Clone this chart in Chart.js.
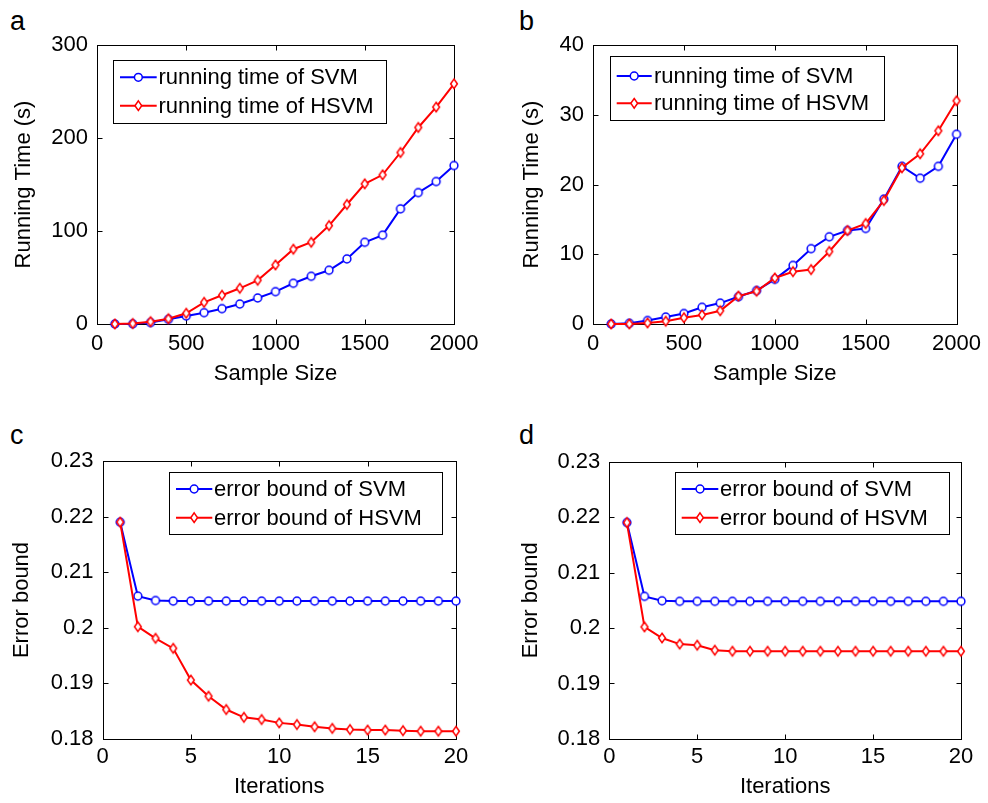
<!DOCTYPE html>
<html>
<head>
<meta charset="utf-8">
<script src="https://cdn.jsdelivr.net/npm/chart.js@4.4.1/dist/chart.umd.min.js"></script>
<style>
  body { margin: 0; background: #fff; width: 988px; height: 803px; position: relative; overflow: hidden; font-family: "Liberation Sans", Arial, sans-serif; }
  canvas { position: absolute; }
  .letter { position: absolute; font-size: 27px; line-height: 1; color: #000; }
</style>
</head>
<body>
<div class="letter" style="left:10px;top:8px">a</div>
<div class="letter" style="left:519px;top:8px">b</div>
<div class="letter" style="left:10px;top:422px">c</div>
<div class="letter" style="left:519px;top:422px">d</div>

<canvas id="chartA" width="494" height="400" style="left:0;top:0"></canvas>
<canvas id="chartB" width="494" height="400" style="left:494px;top:0"></canvas>
<canvas id="chartC" width="494" height="403" style="left:0;top:400px"></canvas>
<canvas id="chartD" width="494" height="403" style="left:494px;top:400px"></canvas>

<script>
// datos
const sampleSizes = [100, 200, 300, 400, 500, 600, 700, 800, 900, 1000, 1100, 1200, 1300, 1400, 1500, 1600, 1700, 1800, 1900, 2000];
const svmTimeA = [0, 0.2, 1.5, 5.0, 8.6, 12.2, 16.5, 21.5, 28.0, 34.8, 43.8, 51.3, 57.8, 70.0, 87.9, 95.5, 123.8, 141.3, 153.2, 170.4];
const hsvmTimeA = [0, 0.5, 2.5, 5.7, 11.5, 23.3, 30.9, 38.4, 47.0, 63.5, 80.4, 87.9, 105.8, 128.5, 150.7, 160.4, 184.4, 211.3, 233.2, 258.3];
const svmTimeB = [0, 0.1, 0.5, 1.0, 1.5, 2.4, 3.0, 3.9, 4.8, 6.4, 8.4, 10.8, 12.5, 13.4, 13.7, 17.9, 22.6, 20.9, 22.6, 27.2];
const hsvmTimeB = [0, 0.0, 0.15, 0.4, 0.9, 1.3, 1.9, 4.0, 4.7, 6.6, 7.5, 7.8, 10.4, 13.4, 14.4, 17.7, 22.4, 24.4, 27.7, 32.0];

const iterations = [1, 2, 3, 4, 5, 6, 7, 8, 9, 10, 11, 12, 13, 14, 15, 16, 17, 18, 19, 20];
const svmBoundC = [0.219, 0.2057, 0.2049, 0.2048, 0.2048, 0.2048, 0.2048, 0.2048, 0.2048, 0.2048, 0.2048, 0.2048, 0.2048, 0.2048, 0.2048, 0.2048, 0.2048, 0.2048, 0.2048, 0.2048];
const hsvmBoundC = [0.219, 0.2002, 0.1981, 0.1963, 0.1906, 0.1877, 0.1853, 0.1839, 0.1835, 0.1829, 0.1826, 0.1822, 0.1819, 0.1817, 0.1816, 0.1816, 0.1815, 0.1814, 0.1814, 0.1814];
const svmBoundD = [0.219, 0.2057, 0.2049, 0.2048, 0.2048, 0.2048, 0.2048, 0.2048, 0.2048, 0.2048, 0.2048, 0.2048, 0.2048, 0.2048, 0.2048, 0.2048, 0.2048, 0.2048, 0.2048, 0.2048];
const hsvmBoundD = [0.219, 0.2002, 0.1982, 0.1971, 0.1969, 0.1960, 0.1958, 0.1958, 0.1958, 0.1958, 0.1958, 0.1958, 0.1958, 0.1958, 0.1958, 0.1958, 0.1958, 0.1958, 0.1958, 0.1958];

// etiquetas de los ejes
const sizeTicks = [0, 500, 1000, 1500, 2000];
const iterTicks = [0, 5, 10, 15, 20];
const timeTicksA = [0, 100, 200, 300];
const timeTicksB = [0, 10, 20, 30, 40];
const boundTicks = [0.18, 0.19, 0.2, 0.21, 0.22, 0.23];

const timeLabels = ['running time of SVM', 'running time of HSVM'];
const boundLabels = ['error bound of SVM', 'error bound of HSVM'];

const BLUE = '#0000ff';
const RED = '#ff0000';
const FONT = '"Liberation Sans", Arial, sans-serif';

// marcador estilo MATLAB (círculo o diamante hueco)
function drawMarker(ctx, shape, x, y, color) {
    ctx.save();
    ctx.lineWidth = 1.5;
    ctx.strokeStyle = color;
    ctx.fillStyle = '#fff';
    ctx.beginPath();
    if (shape === 'circle') {
        ctx.arc(x, y, 3.9, 0, Math.PI * 2);
    } else {
        ctx.moveTo(x, y - 4.8);
        ctx.lineTo(x + 3.4, y);
        ctx.lineTo(x, y + 4.8);
        ctx.lineTo(x - 3.4, y);
        ctx.closePath();
    }
    ctx.fill();
    ctx.stroke();
    ctx.restore();
}

function markerImage(shape, color) {
    const c = document.createElement('canvas');
    c.width = 12;
    c.height = 14;
    drawMarker(c.getContext('2d'), shape, 6, 7, color);
    return c;
}

const circleBlue = markerImage('circle', BLUE);
const diamondRed = markerImage('diamond', RED);

// caja de ejes con marcas hacia dentro
const boxPlugin = {
    id: 'matlabBox',
    beforeDatasetsDraw(chart) {
        const { ctx, chartArea } = chart;
        const l = Math.round(chartArea.left) + 0.5;
        const t = Math.round(chartArea.top) + 0.5;
        const r = Math.round(chartArea.right) + 0.5;
        const b = Math.round(chartArea.bottom) + 0.5;
        ctx.save();
        ctx.strokeStyle = '#000';
        ctx.lineWidth = 1;
        ctx.strokeRect(l, t, r - l, b - t);
        ctx.beginPath();
        chart.scales.x.ticks.forEach(tk => {
            const px = Math.round(chart.scales.x.getPixelForValue(tk.value)) + 0.5;
            ctx.moveTo(px, b); ctx.lineTo(px, b - 5);
            ctx.moveTo(px, t); ctx.lineTo(px, t + 5);
        });
        chart.scales.y.ticks.forEach(tk => {
            const py = Math.round(chart.scales.y.getPixelForValue(tk.value)) + 0.5;
            ctx.moveTo(l, py); ctx.lineTo(l + 5, py);
            ctx.moveTo(r, py); ctx.lineTo(r - 5, py);
        });
        ctx.stroke();
        ctx.restore();
    }
};

// leyenda dentro del área, con línea y marcador
const legendPlugin = {
    id: 'matlabLegend',
    afterDraw(chart, args, opts) {
        if (!opts.box) return;
        const { ctx } = chart;
        const [l, t, r, b] = opts.box;
        ctx.save();
        ctx.fillStyle = '#fff';
        ctx.fillRect(l, t, r - l, b - t);
        ctx.strokeStyle = '#000';
        ctx.lineWidth = 1;
        ctx.strokeRect(Math.round(l) + 0.5, Math.round(t) + 0.5, Math.round(r - l), Math.round(b - t));
        ctx.font = '22px ' + FONT;
        ctx.textBaseline = 'middle';
        ctx.textAlign = 'left';
        const shapes = ['circle', 'diamond'];
        const colors = [BLUE, RED];
        chart.data.datasets.forEach((ds, i) => {
            const y = opts.rows[i];
            ctx.strokeStyle = colors[i];
            ctx.lineWidth = 2;
            ctx.beginPath();
            ctx.moveTo(opts.line[0], y);
            ctx.lineTo(opts.line[1], y);
            ctx.stroke();
            drawMarker(ctx, shapes[i], (opts.line[0] + opts.line[1]) / 2, y, colors[i]);
            ctx.fillStyle = '#000';
            ctx.fillText(ds.label, opts.textX, y + 1);
        });
        ctx.restore();
    }
};

function fmt(v) {
    return String(Math.round(v * 10000) / 10000);
}

function makePanel(canvasId, cfg) {
    const pts = (ys) => cfg.xs.map((x, i) => ({ x: x, y: ys[i] }));
    return new Chart(document.getElementById(canvasId), {
        type: 'line',
        data: {
            datasets: [
                {
                    label: cfg.labels[0],
                    data: pts(cfg.svm),
                    borderColor: BLUE,
                    borderWidth: 2,
                    pointStyle: circleBlue,
                    pointRadius: 4,
                    tension: 0,
                    clip: false,
                    order: 1
                },
                {
                    label: cfg.labels[1],
                    data: pts(cfg.hsvm),
                    borderColor: RED,
                    borderWidth: 2,
                    pointStyle: diamondRed,
                    pointRadius: 4,
                    tension: 0,
                    clip: false,
                    order: 0
                }
            ]
        },
        options: {
            responsive: false,
            animation: false,
            events: [],
            layout: { padding: { top: cfg.padTop, right: cfg.padRight, left: 0, bottom: 0 } },
            scales: {
                x: {
                    type: 'linear',
                    min: cfg.xTicks[0],
                    max: cfg.xTicks[cfg.xTicks.length - 1],
                    afterBuildTicks: s => { s.ticks = cfg.xTicks.map(v => ({ value: v })); },
                    afterFit: s => { s.height = cfg.xAxisH; },
                    grid: { display: false, tickLength: 0 },
                    border: { display: false },
                    ticks: { color: '#000', font: { size: 22, family: FONT }, padding: cfg.xTickPad, maxRotation: 0, callback: fmt },
                    title: { display: true, text: cfg.xTitle, color: '#000', font: { size: 22, family: FONT }, padding: { top: 0, bottom: cfg.xTitlePad } }
                },
                y: {
                    type: 'linear',
                    min: cfg.yTicks[0],
                    max: cfg.yTicks[cfg.yTicks.length - 1],
                    afterBuildTicks: s => { s.ticks = cfg.yTicks.map(v => ({ value: v })); },
                    afterFit: s => { s.width = cfg.yAxisW; },
                    grid: { display: false, tickLength: 0 },
                    border: { display: false },
                    ticks: { color: '#000', font: { size: 22, family: FONT }, padding: 9, callback: fmt },
                    title: { display: true, text: cfg.yTitle, color: '#000', font: { size: 22, family: FONT }, padding: { top: cfg.yTitlePad, bottom: 0 } }
                }
            },
            plugins: {
                legend: { display: false },
                tooltip: { enabled: false },
                matlabLegend: cfg.legend
            }
        },
        plugins: [boxPlugin, legendPlugin]
    });
}

makePanel('chartA', {
    xs: sampleSizes, svm: svmTimeA, hsvm: hsvmTimeA, labels: timeLabels,
    xTicks: sizeTicks, yTicks: timeTicksA,
    xTitle: 'Sample Size', yTitle: 'Running Time (s)',
    padTop: 45, padRight: 40, yAxisW: 97, xAxisH: 76,
    xTickPad: 7, xTitlePad: 13, yTitlePad: 11,
    legend: { box: [113, 60, 386, 123], rows: [77.3, 105.7], line: [120, 156.7], textX: 158.5 }
});

makePanel('chartB', {
    xs: sampleSizes, svm: svmTimeB, hsvm: hsvmTimeB, labels: timeLabels,
    xTicks: sizeTicks, yTicks: timeTicksB,
    xTitle: 'Sample Size', yTitle: 'Running Time (s)',
    padTop: 45, padRight: 28, yAxisW: 99, xAxisH: 76,
    xTickPad: 7, xTitlePad: 13, yTitlePad: 25,
    legend: { box: [116, 56, 390, 120], rows: [76, 103.3], line: [122.7, 157.7], textX: 160 }
});

makePanel('chartC', {
    xs: iterations, svm: svmBoundC, hsvm: hsvmBoundC, labels: boundLabels,
    xTicks: iterTicks, yTicks: boundTicks,
    xTitle: 'Iterations', yTitle: 'Error bound',
    padTop: 61, padRight: 38, yAxisW: 102.5, xAxisH: 64,
    xTickPad: 5, xTitlePad: 3, yTitlePad: 9,
    legend: { box: [168.7, 72, 441.7, 134], rows: [89, 117.7], line: [176, 212.3], textX: 214 }
});

makePanel('chartD', {
    xs: iterations, svm: svmBoundD, hsvm: hsvmBoundD, labels: boundLabels,
    xTicks: iterTicks, yTicks: boundTicks,
    xTitle: 'Iterations', yTitle: 'Error bound',
    padTop: 61.5, padRight: 27, yAxisW: 115.3, xAxisH: 64,
    xTickPad: 5, xTitlePad: 3, yTitlePad: 24,
    legend: { box: [180.7, 72, 454.3, 134], rows: [89, 117.7], line: [187.7, 224.3], textX: 226 }
});
</script>
</body>
</html>
